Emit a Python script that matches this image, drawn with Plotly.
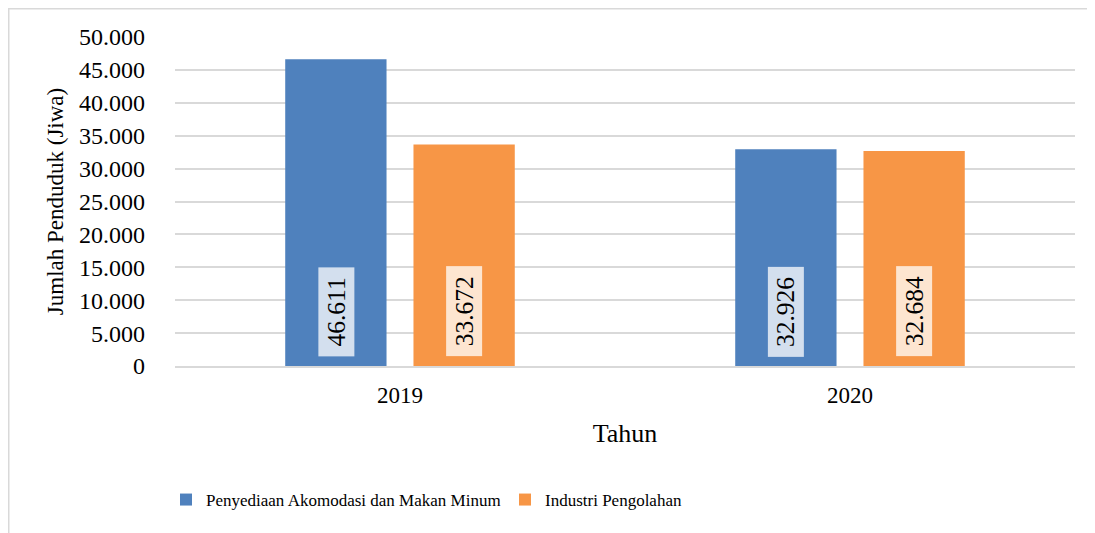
import plotly.graph_objects as go

years = ["2019", "2020"]
series_names = ["Penyediaan Akomodasi dan Makan Minum", "Industri Pengolahan"]
akomodasi = [46611, 32926]
industri = [33672, 32684]
y_ticks = [0, 5000, 10000, 15000, 20000, 25000, 30000, 35000, 40000, 45000, 50000]
colors = ["#4F81BD", "#F79646"]

FONT = "Liberation Serif"
W, H = 1095, 533
ML, MR, MT, MB = 167, 28, 29, 175
plot_w = W - ML - MR
plot_h = H - MT - MB
bargap = 0.43
bargroupgap = 0.21

def fmt(v):
    return f"{v:,}".replace(",", ".")

fig = go.Figure()
for name, vals, col in zip(series_names, [akomodasi, industri], colors):
    fig.add_trace(go.Bar(x=years, y=vals, name=name, marker_color=col,
                         marker_line_width=0))

# label boxes positioned relative to bar geometry (x given as category index)
cat_w = plot_w / len(years)
slot = cat_w * (1 - bargap) / 2
for i, vals in enumerate([akomodasi, industri]):
    shift = (i - 0.5) * slot
    for j, v in enumerate(vals):
        fig.add_annotation(x=j, y=0, xref="x", yref="y",
                           text="\u00a0" + fmt(v) + "\u00a0",
                           textangle=-90, showarrow=False, yanchor="bottom",
                           xshift=shift, yshift=9,
                           bgcolor="rgba(255,255,255,0.75)", borderpad=3,
                           font=dict(family=FONT, size=25.5, color="black"))

fig.update_layout(
    width=W, height=H,
    margin=dict(l=ML, r=MR, t=MT, b=MB, autoexpand=False),
    paper_bgcolor="white", plot_bgcolor="white",
    barmode="group", bargap=bargap, bargroupgap=bargroupgap,
    font=dict(family=FONT, size=22, color="black"),
    showlegend=True,
    legend=dict(orientation="h", x=(158 - ML) / plot_w, xanchor="left",
                y=-(492 - MT - plot_h) / plot_h, yanchor="middle",
                font=dict(size=17), itemwidth=30, traceorder="normal",
                entrywidth=294, entrywidthmode="pixels"),
    xaxis=dict(type="category", title=dict(text="Tahun", standoff=17),
               showgrid=False, automargin=False, range=[-0.5, 1.5],
               showline=True, linecolor="#D9D9D9", linewidth=2,
               ticks="", ticklabelstandoff=7, tickfont=dict(size=23)),
    yaxis=dict(title=dict(text="Jumlah Penduduk (Jiwa)", standoff=8,
                          font=dict(size=23)),
               range=[0, 50000], tickvals=y_ticks, automargin=False,
               ticktext=[fmt(t) for t in y_ticks],
               showgrid=True, gridcolor="#D9D9D9", gridwidth=1.5,
               zeroline=False, ticks="", ticklabelstandoff=29,
               tickfont=dict(size=24)),
    shapes=[
        dict(type="line", xref="paper", yref="paper",
             x0=(0 - ML) / plot_w, x1=(W - ML) / plot_w,
             y0=1 + (MT - 0.75) / plot_h, y1=1 + (MT - 0.75) / plot_h,
             line=dict(color="#D9D9D9", width=1.5)),
        dict(type="line", xref="paper", yref="paper",
             x0=(0.75 - ML) / plot_w, x1=(0.75 - ML) / plot_w,
             y0=1 + MT / plot_h, y1=-MB / plot_h,
             line=dict(color="#D9D9D9", width=1.5)),
    ],
)

fig.write_html("out.html")
